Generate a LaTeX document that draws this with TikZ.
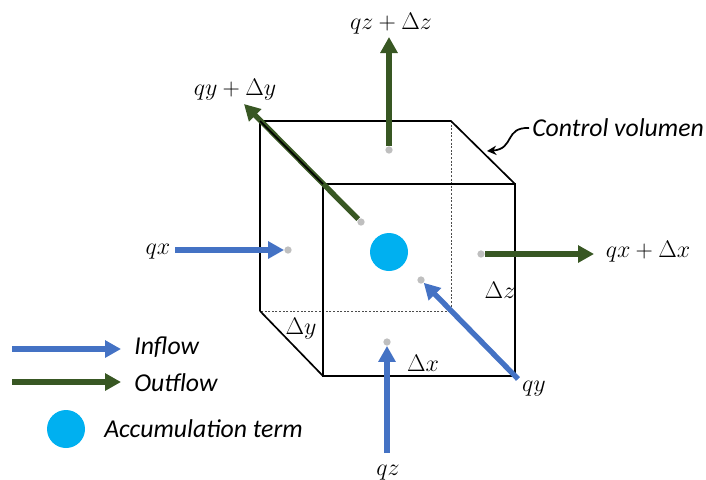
\documentclass[tikz,border=0pt]{standalone}
\usepackage{fix-cm}
\usepackage{fontspec}
\setmainfont{Carlito}
\usetikzlibrary{arrows.meta}
\definecolor{inblue}{HTML}{4472C4}
\definecolor{outgreen}{HTML}{385723}
\definecolor{accum}{HTML}{00B0F0}
\definecolor{dotgray}{HTML}{BFBFBF}
\tikzset{
  x=0.75pt,y=-0.75pt,
  edge/.style={black,line width=1.25pt},
  hidden/.style={black!70,line width=0.4pt,dash pattern=on 1.5pt off 1.2pt},
  flow/.style={line width=4pt,-{Triangle[length=12pt,width=12.5pt]}},
  inflow/.style={flow,inblue},
  outflow/.style={flow,outgreen},
  probe/.style={circle,fill=dotgray,inner sep=0pt,minimum size=5.5pt},
  accumdot/.style={circle,fill=accum,inner sep=0pt,minimum size=28.5pt},
  mathlabel/.style={inner sep=0pt,font=\fontsize{18}{21}\selectfont},
  txtlabel/.style={inner sep=0pt,anchor=west,font=\fontsize{19.3}{22}\selectfont\itshape},
}
\begin{document}
\begin{tikzpicture}
\useasboundingbox (0,0) rectangle (706,479);
% cube corners
\coordinate (b1) at (260,121);
\coordinate (b2) at (451,121);
\coordinate (b3) at (451,311);
\coordinate (b4) at (260,311);
\coordinate (f1) at (323,184);
\coordinate (f2) at (515,184);
\coordinate (f3) at (515,376);
\coordinate (f4) at (323,376);
% hidden edges
\draw[hidden] (b2) -- (b3) -- (b4);
% visible edges
\draw[edge,line join=miter] (f1) rectangle (f3);
\draw[edge] (b4) -- (b1) -- (b2) -- (f2);
\draw[edge] (b4) -- (f4);
% probes
\node[probe] (ptop) at (389,150) {};
\node[probe] (pback) at (361,222) {};
\node[probe] (pleft) at (288,250) {};
\node[probe] (pright) at (481,254) {};
\node[probe] (pfront) at (421,280) {};
\node[probe] (pbot) at (387,342) {};
\node[accumdot] (acc) at (389,252) {};
% free ends
\coordinate (ztop) at (389,37);
\coordinate (yback) at (244,104);
\coordinate (xin) at (175,250);
\coordinate (xout) at (594,254);
\coordinate (zin) at (387,453);
\coordinate (yin) at (518,379);
% flows
\draw[outflow] (ptop) -- (ztop);
\draw[outflow] (pback) -- (yback);
\draw[edge] (b1) -- (f1);
\draw[outflow] (pright) -- (xout);
\draw[inflow] (xin) -- (pleft);
\draw[inflow] (zin) -- (pbot);
\draw[inflow] (yin) -- (pfront);
% labels
\node[mathlabel] (lzo) at (391,24) {$qz+\Delta z$};
\node[mathlabel] (lyo) at (235,90) {$qy+\Delta y$};
\node[mathlabel] (lxi) at (158,252) {$qx$};
\node[mathlabel] (lxo) at (648,252) {$qx+\Delta x$};
\node[mathlabel] (ldz) at (500,290) {$\Delta z$};
\node[mathlabel] (ldy) at (301,329) {$\Delta y$};
\node[mathlabel] (ldx) at (423,363) {$\Delta x$};
\node[mathlabel] (lyi) at (534,389) {$qy$};
\node[mathlabel] (lzi) at (388,473) {$qz$};
\node[txtlabel] (lcv) at (532,128) {Control volumen};
% control volume pointer
\draw[black,line width=1.3pt,-{Stealth[length=7pt,width=7pt]}] (lcv.west) ++(-3,0) coordinate (cvs)
  .. controls (504,127) and (515,149) .. (487,151);
% legend
\coordinate (la1) at (12,349);
\coordinate (la2) at (121,349);
\coordinate (lb1) at (12,382);
\coordinate (lb2) at (121,382);
\draw[inflow] (la1) -- (la2);
\draw[outflow] (lb1) -- (lb2);
\node[txtlabel] (tin) at (134,347) {Inflow};
\node[txtlabel] (tout) at (134,383) {Outflow};
\node[accumdot] (lacc) at (66,429) {};
\node[txtlabel] (tacc) at (104,429) {Accumulation term};
\end{tikzpicture}
\end{document}
